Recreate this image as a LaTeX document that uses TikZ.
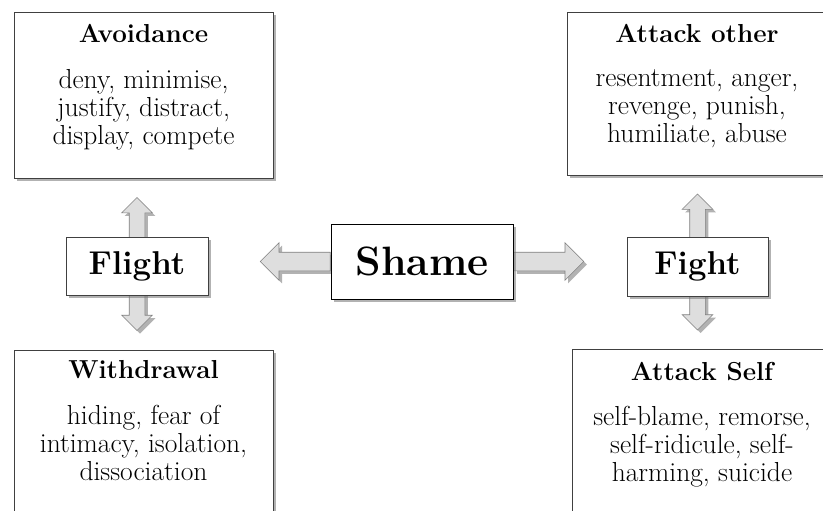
\documentclass[tikz,border=0pt]{standalone}
\usepackage{fontspec}
\usetikzlibrary{shapes.arrows,shadows,backgrounds,positioning,calc}

\tikzset{
	boxshadow/.style={drop shadow={shadow xshift=3pt, shadow yshift=-3pt, fill=black!55, opacity=.55}},
	bigbox/.style={rectangle, draw=black!75, line width=.8pt, fill=white, boxshadow},
	smallbox/.style={rectangle, draw=black!75, line width=.8pt, fill=white, inner sep=0pt,
		font=\fontsize{33}{36}\selectfont\bfseries, boxshadow},
	boxtitle/.style={inner sep=0pt, font=\fontsize{26}{28}\selectfont\bfseries},
	boxtext/.style={inner sep=0pt, align=center, font=\fontsize{27.5}{28}\selectfont},
	blockarrow/.style={draw=black!50, line width=.6pt, fill=black!13, boxshadow},
	harrow/.style={blockarrow, single arrow, inner sep=9pt, single arrow head extend=9.5pt,
		single arrow head indent=0pt, minimum height=70pt},
	varrow/.style={blockarrow, double arrow, rotate=90, inner sep=7.5pt,
		double arrow head extend=7.5pt, double arrow head indent=0pt},
}

\begin{document}
\begin{tikzpicture}[x=1pt, y=-1pt]
	\useasboundingbox (0,0) rectangle (823,511);
	\clip (0,0) rectangle (823,511);

	% the four outcome boxes
	\node[bigbox, minimum width=259pt, minimum height=166pt] (avoid)  at (143.5,95)    {};
	\node[bigbox, minimum width=260pt, minimum height=163pt] (other)  at (697,93.5)    {};
	\node[bigbox, minimum width=259pt, minimum height=165pt] (withdr) at (143.5,432.5) {};
	\node[bigbox, minimum width=260pt, minimum height=165pt] (self)   at (702,431.5)   {};

	\node[boxtitle, anchor=base] (avoidT)  at ($(avoid.north)+(0,31)$)  {Avoidance};
	\node[boxtext, below=26pt of avoidT]  (avoidB)  {deny, minimise,\\justify, distract,\\display, compete};
	\node[boxtitle, anchor=base] (otherT)  at ($(other.north)+(0,31)$)  {Attack other};
	\node[boxtext, below=26pt of otherT]  (otherB)  {resentment, anger,\\revenge, punish,\\humiliate, abuse};
	\node[boxtitle, anchor=base] (withdrT) at ($(withdr.north)+(0,29)$) {Withdrawal};
	\node[boxtext, below=26pt of withdrT] (withdrB) {hiding, fear of\\intimacy, isolation,\\dissociation};
	\node[boxtitle, anchor=base] (selfT)   at ($(self.north)+(0,32)$)   {Attack Self};
	\node[boxtext, below=25pt of selfT]   (selfB)   {self-blame, remorse,\\self-ridicule, self-\\harming, suicide};

	% middle row
	\node[smallbox, minimum width=142pt, minimum height=58pt] (flight) at (137,266)   {Flight};
	\node[smallbox, draw=black, line width=1pt, minimum width=182pt, minimum height=75pt,
		font=\fontsize{41}{44}\selectfont\bfseries] (shame) at (422,261.5) {Shame};
	\node[smallbox, minimum width=141pt, minimum height=59pt] (fight)  at (697.5,266.5) {Fight};

	\coordinate (flmid) at ($(avoid.south)!.5!(withdr.north)$);
	\coordinate (fimid) at ($(other.south)!.5!(self.north)$);

	\begin{scope}[on background layer]
		\node[harrow, anchor=tail] (toflight) at (shame.west) [rotate=180] {};
		\node[harrow, anchor=tail] (tofight)  at (shame.east) {};
		\node[varrow, minimum height=133pt] (flightud) at (flight |- flmid) {};
		\node[varrow, minimum height=136pt] (fightud)  at (fight |- fimid)  {};
	\end{scope}
\end{tikzpicture}
\end{document}
